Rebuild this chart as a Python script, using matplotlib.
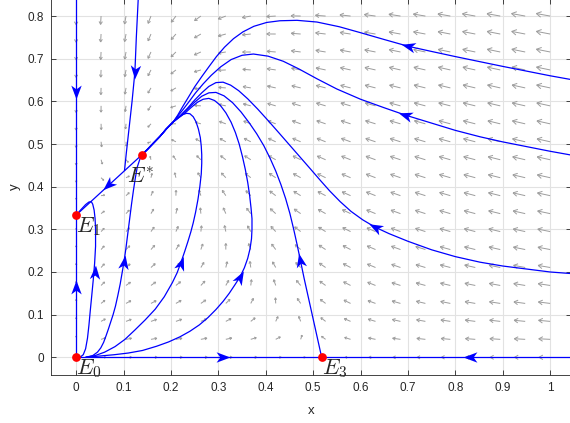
import numpy as np
import matplotlib
matplotlib.use('Agg')
import matplotlib.pyplot as plt
from matplotlib.collections import LineCollection
from matplotlib.markers import MarkerStyle
from matplotlib.path import Path
from matplotlib.transforms import Affine2D

plt.rcParams['font.family'] = ['Liberation Sans', 'DejaVu Sans']
plt.rcParams['mathtext.fontset'] = 'cm'

# =========================
# 1. Equilibria
# =========================
E0 = (0.0, 0.0)
E1 = (0.0, 0.3333)
E3 = (0.518, 0.0)
ES = (0.138, 0.474)

eq_x = [E0[0], E1[0], E3[0], ES[0]]
eq_y = [E0[1], E1[1], E3[1], ES[1]]
eq_labels = [r'$E_0$', r'$E_1$', r'$E_3$', r'$E^{*}$']
label_x = [0.0, 0.0, 0.518, 0.108]
label_y = [0.0, 0.3333, 0.0, 0.446]

# direction field: logistic prey/predator model fixed by the equilibria above
K = E3[0]
L = E1[1]
r = 0.33
a = (1 - ES[0] / K) / ES[1]
b = r * (ES[1] / L - 1) / ES[0]

xq = np.linspace(0, 1, 20)
yq = np.linspace(0, 0.8, 20)

# =========================
# 2. Trajectories (digitised, in flow direction)
# =========================
axis_up_x = [0.0, 0.0]
axis_up_y = [0.0, 0.3333]
axis_down_x = [0.0, 0.0]
axis_down_y = [0.84, 0.3333]
base_left_x = [0.0, 0.518]
base_left_y = [0.0, 0.0]
base_right_x = [1.06, 0.518]
base_right_y = [0.0, 0.0]

c3_x = [0.008, 0.015, 0.02, 0.024, 0.027, 0.03, 0.033, 0.036, 0.039, 0.041, 0.041, 0.04,
        0.038, 0.035, 0.032, 0.027, 0.02, 0.01, 0.0]
c3_y = [0.0, 0.006, 0.02, 0.045, 0.075, 0.111, 0.145, 0.18, 0.22, 0.26, 0.3, 0.325,
        0.345, 0.359, 0.365, 0.364, 0.358, 0.346, 0.3333]

cB_x = [0.02, 0.035, 0.045, 0.052, 0.058, 0.063, 0.068, 0.073, 0.078, 0.083, 0.088, 0.093,
        0.097, 0.101, 0.105, 0.109, 0.113, 0.117, 0.121, 0.125, 0.129, 0.134, 0.138]
cB_y = [0.0, 0.004, 0.012, 0.022, 0.035, 0.05, 0.066, 0.083, 0.1, 0.12, 0.145, 0.172,
        0.198, 0.224, 0.255, 0.29, 0.325, 0.36, 0.392, 0.421, 0.446, 0.463, 0.474]

cC_x = [0.02, 0.04, 0.06, 0.082, 0.103, 0.124, 0.146, 0.167, 0.186, 0.203, 0.213, 0.221,
        0.229, 0.236, 0.242, 0.247, 0.252, 0.257, 0.261, 0.264, 0.265, 0.265, 0.264, 0.262,
        0.258, 0.253, 0.247, 0.24, 0.233, 0.225, 0.215, 0.205,
        0.19, 0.177, 0.163, 0.15, 0.138]
cC_y = [0.0, 0.004, 0.012, 0.025, 0.042, 0.064, 0.088, 0.113, 0.142, 0.175, 0.198, 0.222,
        0.248, 0.272, 0.294, 0.315, 0.34, 0.37, 0.4, 0.43, 0.455, 0.475, 0.495, 0.515,
        0.535, 0.552, 0.564, 0.571, 0.572, 0.569, 0.561, 0.552,
        0.535, 0.518, 0.502, 0.487, 0.474]

cD_x = [0.02, 0.05, 0.08, 0.11, 0.14, 0.17, 0.195, 0.219, 0.24, 0.26, 0.278, 0.295, 0.31,
        0.323, 0.335, 0.346, 0.355, 0.362, 0.367, 0.37, 0.371, 0.371, 0.369, 0.366, 0.362,
        0.357, 0.351, 0.344, 0.336, 0.327, 0.316, 0.304, 0.292, 0.28, 0.268, 0.256, 0.243,
        0.23, 0.217, 0.205, 0.19, 0.177, 0.163, 0.15, 0.138]
cD_y = [0.0, 0.003, 0.006, 0.01, 0.016, 0.026, 0.036, 0.048, 0.061, 0.076, 0.093, 0.112, 0.131,
        0.15, 0.17, 0.189, 0.21, 0.232, 0.255, 0.278, 0.3, 0.325, 0.35, 0.38, 0.41,
        0.44, 0.47, 0.5, 0.527, 0.551, 0.573, 0.591, 0.602, 0.607, 0.605, 0.598, 0.586,
        0.573, 0.562, 0.552, 0.535, 0.518, 0.502, 0.487, 0.474]

cE3_x = [0.518, 0.51, 0.5, 0.49, 0.481, 0.473, 0.466, 0.459, 0.451, 0.442, 0.432, 0.421,
         0.409, 0.396, 0.381, 0.365, 0.348, 0.33, 0.312, 0.295, 0.28, 0.265, 0.25, 0.235,
         0.22, 0.205, 0.19, 0.177, 0.163, 0.15, 0.138]
cE3_y = [0.0, 0.04, 0.09, 0.14, 0.185, 0.228, 0.265, 0.3, 0.337, 0.372, 0.405, 0.437,
         0.467, 0.496, 0.524, 0.55, 0.575, 0.597, 0.613, 0.621, 0.62, 0.612, 0.598, 0.582,
         0.566, 0.552, 0.535, 0.518, 0.502, 0.487, 0.474]

cR3_x = [1.06, 1.0, 0.95, 0.9, 0.852, 0.8, 0.75, 0.7, 0.66, 0.631, 0.605, 0.58, 0.557,
         0.535, 0.515, 0.494, 0.472, 0.45, 0.428, 0.405, 0.383, 0.362, 0.343, 0.326, 0.31,
         0.295, 0.28, 0.265, 0.25, 0.235, 0.22, 0.205, 0.19, 0.177, 0.163, 0.15, 0.138]
cR3_y = [0.195, 0.2, 0.207, 0.214, 0.223, 0.236, 0.252, 0.272, 0.29, 0.305, 0.322, 0.342, 0.365,
         0.39, 0.415, 0.442, 0.47, 0.498, 0.526, 0.555, 0.582, 0.606, 0.625, 0.638, 0.645,
         0.644, 0.635, 0.62, 0.603, 0.584, 0.567, 0.552, 0.535, 0.518, 0.502, 0.487, 0.474]

cR2_x = [1.06, 1.0, 0.95, 0.9, 0.852, 0.8, 0.75, 0.694, 0.65, 0.6, 0.55, 0.508, 0.47, 0.437,
         0.405, 0.374, 0.35, 0.327, 0.305, 0.285, 0.268, 0.252, 0.238, 0.225, 0.214, 0.205,
         0.19, 0.177, 0.163, 0.15, 0.138]
cR2_y = [0.471, 0.483, 0.494, 0.505, 0.517, 0.532, 0.549, 0.568, 0.585, 0.605, 0.629, 0.653,
         0.676, 0.694, 0.706, 0.711, 0.708, 0.698, 0.681, 0.661, 0.641, 0.62, 0.599, 0.58,
         0.565, 0.552, 0.535, 0.518, 0.502, 0.487, 0.474]

cR1_x = [1.06, 1.0, 0.95, 0.9, 0.852, 0.8, 0.75, 0.701, 0.65, 0.6, 0.555, 0.508, 0.466, 0.43,
         0.402, 0.375, 0.352, 0.332, 0.313, 0.296, 0.28, 0.265, 0.25, 0.237, 0.225, 0.214,
         0.205, 0.19, 0.177, 0.163, 0.15, 0.138]
cR1_y = [0.648, 0.66, 0.671, 0.682, 0.693, 0.705, 0.717, 0.729, 0.745, 0.761, 0.775, 0.786,
         0.79, 0.789, 0.785, 0.776, 0.763, 0.747, 0.727, 0.705, 0.681, 0.658, 0.634, 0.61,
         0.588, 0.567, 0.552, 0.535, 0.518, 0.502, 0.487, 0.474]

cT_x = [0.131, 0.127, 0.124, 0.118, 0.112, 0.106, 0.102]
cT_y = [0.84, 0.75, 0.669, 0.6, 0.54, 0.48, 0.437]

cS_x = [0.138, 0.0]
cS_y = [0.474, 0.3333]

curves = {
    'axis_up': (axis_up_x, axis_up_y), 'axis_down': (axis_down_x, axis_down_y),
    'base_left': (base_left_x, base_left_y), 'base_right': (base_right_x, base_right_y),
    'c3': (c3_x, c3_y), 'cB': (cB_x, cB_y), 'cC': (cC_x, cC_y), 'cD': (cD_x, cD_y),
    'cE3': (cE3_x, cE3_y), 'cR3': (cR3_x, cR3_y), 'cR2': (cR2_x, cR2_y),
    'cR1': (cR1_x, cR1_y), 'cT': (cT_x, cT_y), 'cS': (cS_x, cS_y),
}

# arrowheads on the trajectories
arrow_curve = ['axis_up', 'axis_down', 'base_left', 'base_right', 'c3', 'cB', 'cC', 'cD',
               'cE3', 'cR3', 'cR2', 'cR1', 'cT', 'cS']
arrow_x = [0.0, 0.0, 0.31, 0.83, 0.039, 0.101, 0.221, 0.346, 0.473, 0.631, 0.694, 0.701, 0.124, 0.068]
arrow_y = [0.165, 0.622, 0.0, 0.0, 0.2, 0.224, 0.222, 0.189, 0.228, 0.305, 0.568, 0.729, 0.669, 0.405]

# =========================
# 3. Figure
# =========================
fig = plt.figure(figsize=(5.70, 4.23), dpi=100)
ax = fig.add_axes([51 / 570, 48 / 423, 520 / 570, 376 / 423])
x0, x1 = -0.053, 1.044
y0, y1 = -0.0415, 0.84
ax.set_xlim(x0, x1)
ax.set_ylim(y0, y1)

ax.set_xticks(np.round(np.arange(0, 1.01, 0.1), 1))
ax.set_xticklabels(['0', '0.1', '0.2', '0.3', '0.4', '0.5', '0.6', '0.7', '0.8', '0.9', '1'])
ax.set_yticks(np.round(np.arange(0, 0.81, 0.1), 1))
ax.set_yticklabels(['0', '0.1', '0.2', '0.3', '0.4', '0.5', '0.6', '0.7', '0.8'])
ax.tick_params(direction='in', length=3.5, width=0.6, top=True, right=True,
               labelsize=8.5, colors='#262626', pad=5)
for sp in ax.spines.values():
    sp.set_linewidth(0.6)
    sp.set_color('#262626')
ax.grid(True, color='#e2e2e2', linewidth=0.8)
ax.set_axisbelow(True)
ax.set_xlabel('x', fontsize=9.5, color='#262626', labelpad=8)
ax.set_ylabel('y', fontsize=9.5, color='#262626', labelpad=5)

# pixel scale of the data axes
bb = ax.get_window_extent()
sx = bb.width / (x1 - x0)
sy = bb.height / (y1 - y0)

# direction field (open gray arrows, tail on the grid point)
X, Y = np.meshgrid(xq, yq)
U = X * (1 - X / K) - a * X * Y
V = Y * (r * (1 - Y / L) + b * X)
segs = []
for xx, yy, u, v in zip(X.ravel(), Y.ravel(), U.ravel(), V.ravel()):
    m = np.hypot(u, v)
    if m < 1e-4:
        continue
    Lpx = min(13.0 * (m / 1.6) ** 0.28, 14.0)
    dx_px, dy_px = u * sx, v * sy
    n = np.hypot(dx_px, dy_px)
    ex, ey = dx_px / n, dy_px / n
    hx, hy = xx + Lpx * ex / sx, yy + Lpx * ey / sy
    segs.append([(xx, yy), (hx, hy)])
    hl = 0.4 * Lpx
    for ang in (np.radians(30), -np.radians(30)):
        bx = -(ex * np.cos(ang) - ey * np.sin(ang))
        by = -(ex * np.sin(ang) + ey * np.cos(ang))
        segs.append([(hx, hy), (hx + hl * bx / sx, hy + hl * by / sy)])
ax.add_collection(LineCollection(segs, colors='#9c9c9c', linewidths=0.7, zorder=2))

# trajectories
for name, (cx, cy) in curves.items():
    ax.plot(cx, cy, color='blue', linewidth=0.9, zorder=3, solid_capstyle='butt',
            solid_joinstyle='round')

# notched arrowheads
head = Path([(1, 0), (-1, 0.75), (-0.45, 0), (-1, -0.75), (1, 0)],
            [Path.MOVETO, Path.LINETO, Path.LINETO, Path.LINETO, Path.CLOSEPOLY])
for name, px, py in zip(arrow_curve, arrow_x, arrow_y):
    cx, cy = np.asarray(curves[name][0]), np.asarray(curves[name][1])
    i = int(np.argmin((cx - px) ** 2 + (cy - py) ** 2))
    i0, i1 = max(i - 1, 0), min(i + 1, len(cx) - 1)
    p0 = ax.transData.transform((cx[i0], cy[i0]))
    p1 = ax.transData.transform((cx[i1], cy[i1]))
    ang = np.degrees(np.arctan2(p1[1] - p0[1], p1[0] - p0[0]))
    ms = MarkerStyle(head, transform=Affine2D().rotate_deg(ang))
    ax.plot(px, py, marker=ms, markersize=10, color='blue', markeredgewidth=0,
            linestyle='none', zorder=4)

# equilibria
ax.plot(eq_x, eq_y, 'o', color='red', markersize=6.3, markeredgewidth=0, zorder=5,
        clip_on=False)
for lx, ly, lab in zip(label_x, label_y, eq_labels):
    ax.text(lx, ly, lab, fontsize=16, ha='left', va='top', color='#262626', zorder=6)

fig.savefig('out.png', dpi=100)
